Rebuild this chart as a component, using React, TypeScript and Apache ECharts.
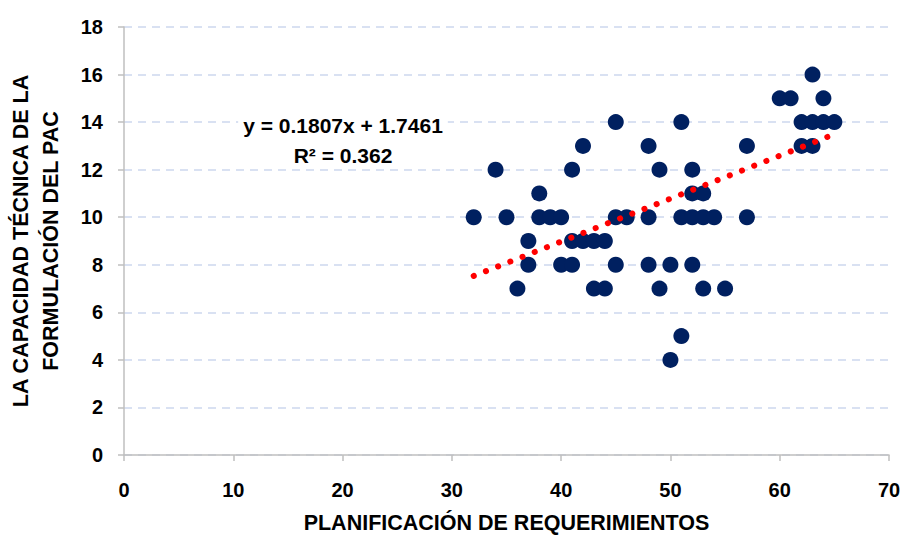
import React, { useEffect, useRef } from "react";
import * as echarts from "echarts";

const xValues = [
  32, 34, 35, 36, 37, 37, 38, 38, 39, 40, 40, 41, 41, 41, 42, 42, 43, 43, 44, 44,
  45, 45, 45, 46, 48, 48, 48, 49, 49, 50, 50, 51, 51, 51, 52, 52, 52, 52, 53, 53,
  53, 54, 55, 57, 57, 60, 61, 62, 62, 63, 63, 63, 64, 64, 65,
];
const yValues = [
  10, 12, 10, 7, 9, 8, 11, 10, 10, 10, 8, 12, 9, 8, 13, 9, 9, 7, 9, 7,
  14, 10, 8, 10, 13, 10, 8, 12, 7, 8, 4, 14, 10, 5, 12, 11, 10, 8, 11, 10,
  7, 10, 7, 13, 10, 15, 15, 14, 13, 16, 14, 13, 15, 14, 14,
];
const trendPoints: [number, number][] = [
  [32, 7.53],
  [65, 13.49],
];
const equationText = "y = 0.1807x + 1.7461";
const r2Text = "R² = 0.362";
const xTitle = "PLANIFICACIÓN DE REQUERIMIENTOS";
const yTitle = "LA CAPACIDAD TÉCNICA DE LA\nFORMULACIÓN DEL PAC";

const FONT = "'Liberation Sans', Arial, sans-serif";

export default function App() {
  const ref = useRef<HTMLDivElement>(null);
  useEffect(() => {
    if (!ref.current) return;
    const chart = echarts.init(ref.current, null, { renderer: "svg" });
    const scatterData = xValues.map((x, i) => [x, yValues[i]]);
    chart.setOption({
      animation: false,
      backgroundColor: "#ffffff",
      grid: { left: 124, right: 15, top: 27, bottom: 80, containLabel: false, outerBoundsMode: "none" },
      xAxis: {
        type: "value",
        min: 0,
        max: 70,
        interval: 10,
        name: xTitle,
        nameLocation: "middle",
        nameGap: 57,
        nameTextStyle: { fontFamily: FONT, fontWeight: "bold", fontSize: 21.5, color: "#000" },
        axisLine: { show: true, lineStyle: { color: "#BFBFBF", width: 1.5 } },
        axisTick: { show: true, length: 6, lineStyle: { color: "#BFBFBF", width: 1.5 } },
        axisLabel: { fontFamily: FONT, fontWeight: "bold", fontSize: 20, color: "#000", margin: 25 },
        splitLine: { show: false },
      },
      yAxis: {
        type: "value",
        min: 0,
        max: 18,
        interval: 2,
        name: yTitle,
        nameLocation: "middle",
        nameGap: 58,
        nameRotate: 90,
        nameTextStyle: { fontFamily: FONT, fontWeight: "bold", fontSize: 21.5, color: "#000", lineHeight: 30 },
        axisLine: { show: true, lineStyle: { color: "#BFBFBF", width: 1.5 } },
        axisTick: { show: true, length: 6, lineStyle: { color: "#BFBFBF", width: 1.5 } },
        axisLabel: { fontFamily: FONT, fontWeight: "bold", fontSize: 20, color: "#000", margin: 21 },
        splitLine: { show: true, lineStyle: { color: "#D9E1F2", width: 2, type: [8, 6] } },
      },
      graphic: [
        {
          type: "text",
          x: 343,
          y: 125,
          z: 10,
          style: {
            text: equationText,
            fontFamily: FONT,
            fontWeight: "bold",
            fontSize: 21,
            fill: "#000",
            align: "center",
            verticalAlign: "middle",
            backgroundColor: "#ffffff",
            padding: [2, 5],
          },
        },
        {
          type: "text",
          x: 343,
          y: 155,
          z: 10,
          style: {
            text: r2Text,
            fontFamily: FONT,
            fontWeight: "bold",
            fontSize: 21,
            fill: "#000",
            align: "center",
            verticalAlign: "middle",
          },
        },
      ],
      series: [
        {
          type: "scatter",
          data: scatterData,
          symbol: "circle",
          symbolSize: 16,
          itemStyle: { color: "#002060", opacity: 1 },
          z: 2,
        },
        {
          type: "line",
          data: trendPoints,
          symbol: "none",
          lineStyle: { color: "#FF0000", width: 6, type: [0.1, 13], cap: "round" },
          z: 3,
        },
      ],
    });
    return () => chart.dispose();
  }, []);
  return (
    <div
      ref={ref}
      style={{ position: "fixed", left: 0, top: 0, width: 904, height: 535 }}
    />
  );
}
